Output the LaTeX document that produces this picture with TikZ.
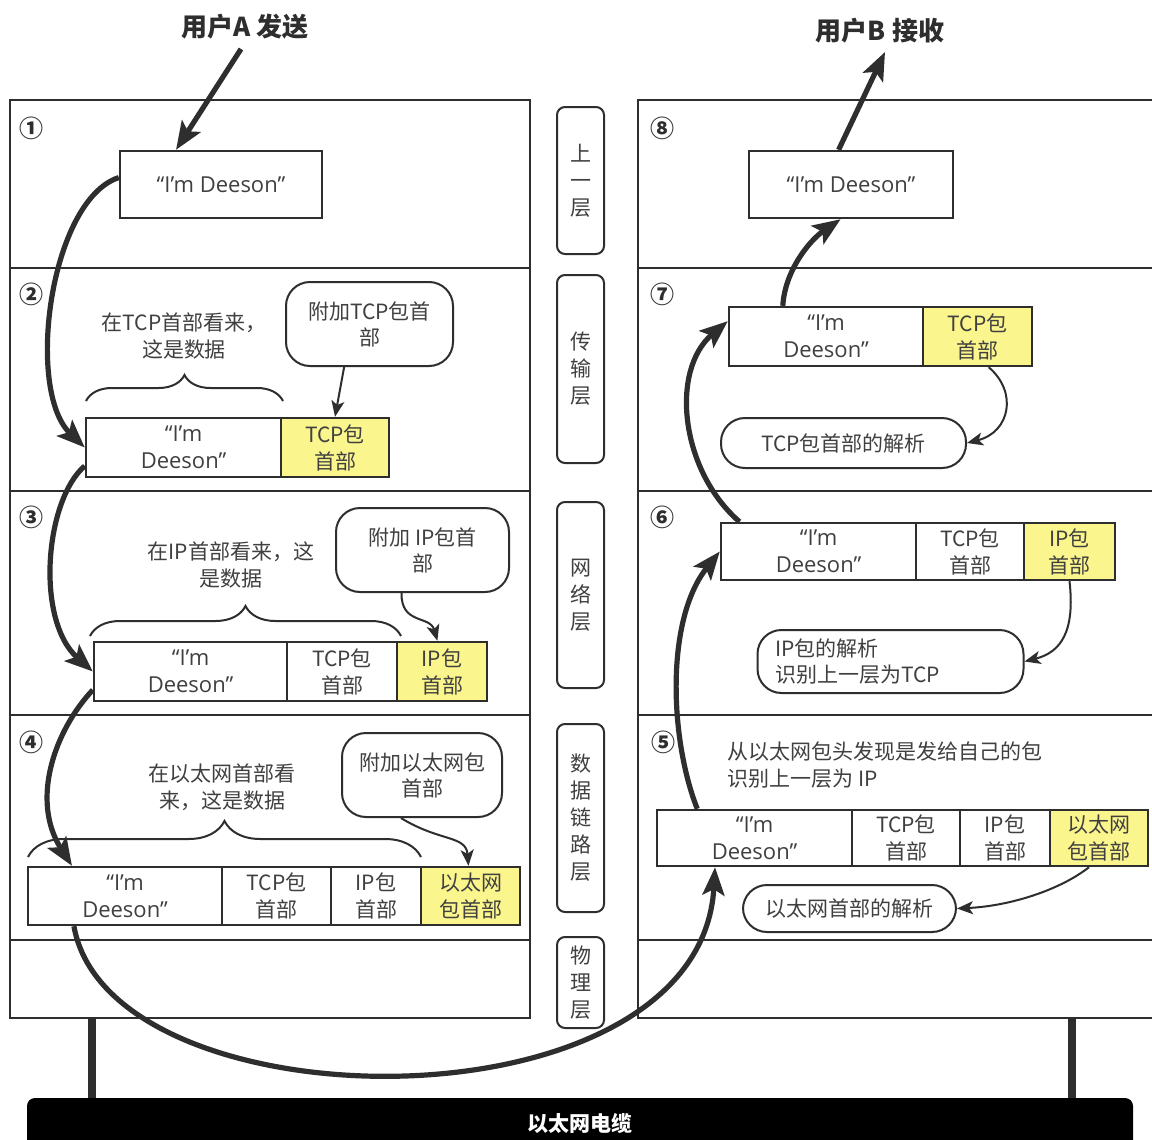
\documentclass[tikz,border=0pt]{standalone}
\usepackage{fontspec}
\setmainfont{Noto Sans CJK SC}
\newfontfamily\lat{Open Sans}
\usetikzlibrary{arrows.meta,calc,decorations.pathreplacing}
\definecolor{ink}{HTML}{2E2E2E}
\definecolor{txt}{HTML}{404040}
\definecolor{hdr}{HTML}{FAF58C}
% style, name, x1, x2, y1, y2, text  (pixel coordinates)
\newcommand\bx[7]{%
  \pgfmathsetmacro\bxw{(#4-#3)*0.5}%
  \pgfmathsetmacro\bxh{(#6-#5)*0.5}%
  \node[#1, minimum width=\bxw pt, minimum height=\bxh pt] (#2) at ({(#3+#4)/2},{(#5+#6)/2}) {#7};%
}
\begin{document}
\begin{tikzpicture}[x=0.5pt,y=-0.5pt,
  layer/.style={draw=ink,line width=1.3pt,fill=white,inner sep=0pt},
  cellbox/.style={draw=ink,line width=1.2pt,fill=white,inner sep=0pt,align=center,text=txt,font=\fontsize{10.5}{13.5}\selectfont},
  datacell/.style={cellbox,font=\lat\fontsize{11}{13.5}\selectfont},
  hcell/.style={cellbox,fill=hdr},
  bubble/.style={draw=ink,line width=1pt,fill=white,rounded corners=12pt,inner sep=0pt,align=center,text=txt,font=\fontsize{10.5}{13}\selectfont},
  bubbleL/.style={bubble,align=left,text width=115pt,inner xsep=9pt},
  midlabel/.style={draw=ink,line width=1pt,fill=white,rounded corners=4pt,inner sep=0pt,align=center,text=txt,font=\fontsize{10.5}{13.5}\selectfont},
  num/.style={text=ink,font=\fontsize{12}{14}\selectfont\bfseries,inner sep=0pt},
  note/.style={text=txt,align=center,font=\fontsize{10.5}{13.5}\selectfont,inner sep=0pt},
  title/.style={text=ink,font=\fontsize{13}{15}\selectfont\bfseries,inner sep=0pt},
  cable/.style={fill=black,rounded corners=4pt,inner sep=0pt,text=white,font=\fontsize{10.5}{13}\selectfont\bfseries},
  post/.style={draw=ink,line width=4pt},
  bigarrow/.style={draw=ink,line width=2.6pt,-{Stealth[length=14pt,width=11pt,inset=3pt]}},
  thinarrow/.style={draw=ink,line width=1pt,-{Stealth[length=8pt,width=6.5pt,inset=2pt]}},
  bracepath/.style={draw=ink,line width=1pt,decorate,decoration={brace,amplitude=#1}}
]
\useasboundingbox (0,0) rectangle (1152,1140);

% ---------- layer frames ----------
\bx{layer}{lL1}{10}{530}{100}{268}{}
\bx{layer}{lL2}{10}{530}{268}{491}{}
\bx{layer}{lL3}{10}{530}{491}{715}{}
\bx{layer}{lL4}{10}{530}{715}{940}{}
\bx{layer}{lL5}{10}{530}{940}{1018}{}
\bx{layer}{rL1}{638}{1170}{100}{268}{}
\bx{layer}{rL2}{638}{1170}{268}{491}{}
\bx{layer}{rL3}{638}{1170}{491}{715}{}
\bx{layer}{rL4}{638}{1170}{715}{940}{}
\bx{layer}{rL5}{638}{1170}{940}{1018}{}

% ---------- middle layer labels ----------
\bx{midlabel}{m1}{557}{604}{107}{254}{上\\一\\层}
\bx{midlabel}{m2}{557}{604}{275}{463}{传\\输\\层}
\bx{midlabel}{m3}{557}{604}{502}{688}{网\\络\\层}
\bx{midlabel}{m4}{557}{604}{724}{912}{数\\据\\链\\路\\层}
\bx{midlabel}{m5}{557}{604}{937}{1028}{物\\理\\层}

% ---------- step numbers ----------
\node[num] (n1) at (31,128) {①};
\node[num] (n2) at (31,294) {②};
\node[num] (n3) at (31,517) {③};
\node[num] (n4) at (31,742) {④};
\node[num] (n8) at (662,128) {⑧};
\node[num] (n7) at (662,294) {⑦};
\node[num] (n6) at (662,517) {⑥};
\node[num] (n5) at (663,742) {⑤};

% ---------- titles ----------
\node[title] (tA) at (245,27) {用户A 发送};
\node[title] (tB) at (880,31) {用户B 接收};
\coordinate (ta) at (241,49);
\coordinate (tb) at (885,52);

% ---------- layer 1 / 8 ----------
\bx{datacell}{b1}{120}{322}{151}{218}{“I’m Deeson”}
\bx{datacell}{b8}{749}{953}{151}{218}{“I’m Deeson”}

% ---------- left layer 2 ----------
\bx{datacell}{p2d}{86}{281}{418}{477}{“I’m\\Deeson”}
\bx{hcell}{p2t}{281}{389}{418}{477}{TCP包\\首部}
\bx{bubble}{bub2}{286}{453}{282}{366}{附加TCP包首\\部}
\node[note] (c2) at (184,336) {在TCP首部看来，\\这是数据};
\draw[bracepath=13pt] (86,401) -- (283,401);

% ---------- left layer 3 ----------
\bx{datacell}{p3d}{94}{287}{642}{701}{“I’m\\Deeson”}
\bx{cellbox}{p3t}{287}{397}{642}{701}{TCP包\\首部}
\bx{hcell}{p3i}{397}{487}{642}{701}{IP包\\首部}
\bx{bubble}{bub3}{336}{509}{508}{592}{附加 IP包首\\部}
\node[note] (c3) at (231,565) {在IP首部看来，这\\是数据};
\draw[bracepath=15pt] (90,636) -- (401,636);

% ---------- left layer 4 ----------
\bx{datacell}{p4d}{28}{222}{867}{925}{“I’m\\Deeson”}
\bx{cellbox}{p4t}{222}{331}{867}{925}{TCP包\\首部}
\bx{cellbox}{p4i}{331}{421}{867}{925}{IP包\\首部}
\bx{hcell}{p4e}{421}{520}{867}{925}{以太网\\包首部}
\bx{bubble}{bub4}{342}{502}{733}{817}{附加以太网包\\首部}
\node[note] (c4) at (222,787) {在以太网首部看\\来，这是数据};
\draw[bracepath=18pt] (28,857) -- (421,857);

% ---------- right layer 7 ----------
\bx{datacell}{p7d}{729}{923}{307}{366}{“I’m\\Deeson”}
\bx{hcell}{p7t}{923}{1032}{307}{366}{TCP包\\首部}
\bx{bubble}{r7b}{721}{966}{418}{468}{TCP包首部的解析}

% ---------- right layer 6 ----------
\bx{datacell}{p6d}{721}{916}{523}{580}{“I’m\\Deeson”}
\bx{cellbox}{p6t}{916}{1024}{523}{580}{TCP包\\首部}
\bx{hcell}{p6i}{1024}{1115}{523}{580}{IP包\\首部}
\bx{bubbleL}{r6b}{758}{1023}{630}{693}{IP包的解析\\识别上一层为TCP}

% ---------- right layer 5 ----------
\node[note,align=left,anchor=west] (c5) at (727,765) {从以太网包头发现是发给自己的包\\识别上一层为 IP};
\bx{datacell}{p5d}{657}{852}{810}{866}{“I’m\\Deeson”}
\bx{cellbox}{p5t}{852}{960}{810}{866}{TCP包\\首部}
\bx{cellbox}{p5i}{960}{1050}{810}{866}{IP包\\首部}
\bx{hcell}{p5e}{1050}{1148}{810}{866}{以太网\\包首部}
\bx{bubble}{r5b}{743}{956}{885}{932}{以太网首部的解析}

% ---------- cable ----------
\bx{cable}{cab}{27}{1133}{1098}{1152}{\raisebox{2.5pt}{以太网电缆}}
\coordinate (pa1) at (92,1019);
\coordinate (pa2) at (92,1098);
\coordinate (pb1) at (1072,1019);
\coordinate (pb2) at (1072,1098);
\draw[post] (pa1) -- (pa2);
\draw[post] (pb1) -- (pb2);

% ---------- thin arrows ----------
\draw[thinarrow] ($(bub2.south west)!0.35!(bub2.south east)$) -- (p2t.north);
\draw[thinarrow] ($(bub3.south west)!0.38!(bub3.south east)$) .. controls (401,625) and (430,615) .. ($(p3i.north west)!0.45!(p3i.north east)$);
\draw[thinarrow] ($(bub4.south west)!0.37!(bub4.south east)$) .. controls (440,842) and (466,835) .. ($(p4e.north west)!0.48!(p4e.north east)$);
\draw[thinarrow] ($(p7t.south west)!0.6!(p7t.south east)$) .. controls (1018,392) and (1010,432) .. (r7b.east);
\draw[thinarrow] ($(p6i.south west)!0.5!(p6i.south east)$) .. controls (1075,630) and (1062,652) .. (r6b.east);
\draw[thinarrow] ($(p5e.south west)!0.4!(p5e.south east)$) .. controls (1060,890) and (1010,906) .. (r5b.east);

% ---------- big arrows ----------
\draw[bigarrow] (ta) -- ($(b1.north west)!0.28!(b1.north east)$);
\draw[bigarrow] ($(b1.west)!0.2!(b1.north west)$) .. controls (50,200) and (25,390) .. (p2d.west);
\draw[bigarrow] ($(p2d.west)!0.6!(p2d.south west)$) .. controls (45,500) and (35,620) .. (p3d.west);
\draw[bigarrow] ($(p3d.west)!0.6!(p3d.south west)$) .. controls (55,730) and (30,800) .. ($(p4d.north west)!0.23!(p4d.north east)$);
\draw[bigarrow] ($(p4d.south west)!0.24!(p4d.south east)$) .. controls (110,1130) and (700,1135) .. ($(p5d.south west)!0.3!(p5d.south east)$);
\draw[bigarrow] ($(p5d.north west)!0.21!(p5d.north east)$) .. controls (670,740) and (665,620) .. (p6d.west);
\draw[bigarrow] ($(p6d.north west)!0.1!(p6d.north east)$) .. controls (680,470) and (670,370) .. ($(p7d.west)!0.5!(p7d.north west)$);
\draw[bigarrow] ($(p7d.north west)!0.28!(p7d.north east)$) .. controls (785,270) and (810,240) .. ($(b8.south west)!0.45!(b8.south east)$);
\draw[bigarrow] ($(b8.north west)!0.44!(b8.north east)$) -- (tb);
\end{tikzpicture}
\end{document}
